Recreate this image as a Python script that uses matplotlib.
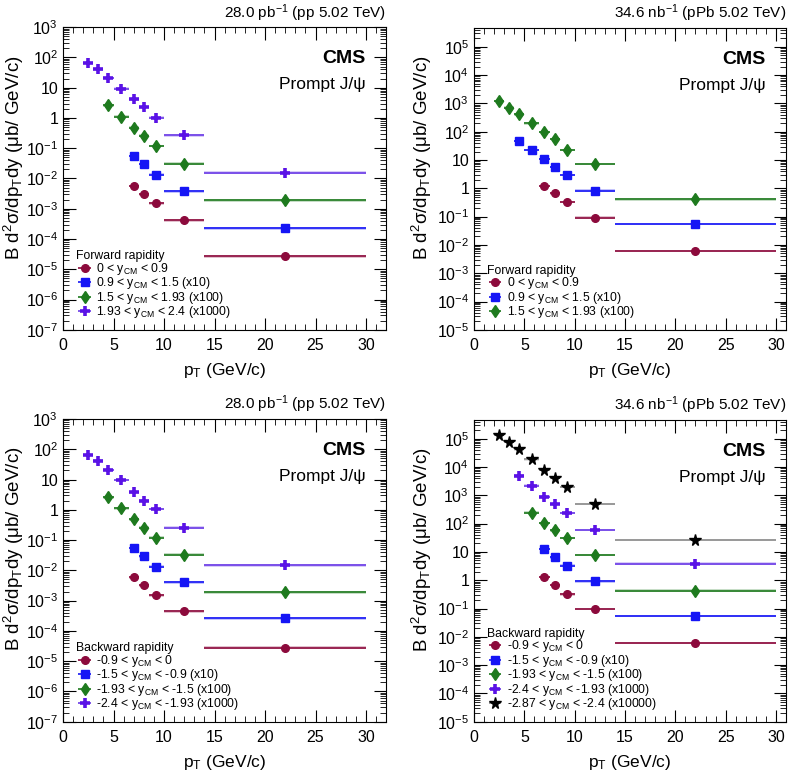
import numpy as np
import matplotlib
matplotlib.use("Agg")
import matplotlib.pyplot as plt
from matplotlib.ticker import LogLocator, FuncFormatter, MultipleLocator, NullFormatter

plt.rcParams['font.family'] = ['Liberation Sans', 'DejaVu Sans']
plt.rcParams['mathtext.fontset'] = 'custom'
plt.rcParams['mathtext.rm'] = 'Liberation Sans'
plt.rcParams['mathtext.it'] = 'Liberation Sans'
plt.rcParams['mathtext.bf'] = 'Liberation Sans:bold'

# pT bin edges (GeV/c); every series fills the last N bins
pt_edges = [2, 3, 4, 5, 6.5, 7.5, 8.5, 10, 14, 30]
pt_centers = [2.5, 3.5, 4.5, 5.75, 7, 8, 9.25, 12, 22]

# -----------------------------
# pp forward
# -----------------------------
pp_fwd_y1 = [5.7e-3, 3.0e-3, 1.5e-3, 4.1e-4, 2.7e-5]
pp_fwd_y2 = [0.056, 0.030, 0.0135, 0.0038, 2.24e-4]
pp_fwd_y3 = [2.6, 1.1, 0.48, 0.26, 0.12, 0.031, 0.0019]
pp_fwd_y4 = [65, 40, 21, 9.3, 4.1, 2.3, 1.03, 0.27, 0.0155]

# pPb forward
ppb_fwd_y1 = [1.23, 0.66, 0.33, 0.092, 0.0062]
ppb_fwd_y2 = [48, 23, 11, 5.8, 3.0, 0.83, 0.055]
ppb_fwd_y3 = [1240, 720, 410, 200, 97, 56, 23, 7.4, 0.41]

# pp backward
pp_bwd_y1 = [5.9e-3, 3.2e-3, 1.5e-3, 4.4e-4, 2.8e-5]
pp_bwd_y2 = [0.055, 0.029, 0.0134, 0.0040, 2.6e-4]
pp_bwd_y3 = [2.6, 1.12, 0.48, 0.26, 0.12, 0.033, 0.0019]
pp_bwd_y4 = [66, 42, 21, 9.7, 3.8, 2.0, 1.07, 0.26, 0.0148]

# pPb backward
ppb_bwd_y1 = [1.32, 0.67, 0.32, 0.095, 0.006]
ppb_bwd_y2 = [12.6, 6.4, 3.3, 0.91, 0.054]
ppb_bwd_y3 = [245, 108, 58, 31, 7.7, 0.43]
ppb_bwd_y4 = [5000, 2200, 910, 500, 240, 61, 3.9]
ppb_bwd_y5 = [1.35e5, 7.8e4, 4.2e4, 1.86e4, 7.8e3, 4.1e3, 1.95e3, 500, 26]

fwd_labels = [r"0 < y$_{\mathregular{CM}}$ < 0.9",
              r"0.9 < y$_{\mathregular{CM}}$ < 1.5 (x10)",
              r"1.5 < y$_{\mathregular{CM}}$ < 1.93 (x100)",
              r"1.93 < y$_{\mathregular{CM}}$ < 2.4 (x1000)"]
bwd_labels = [r"-0.9 < y$_{\mathregular{CM}}$ < 0",
              r"-1.5 < y$_{\mathregular{CM}}$ < -0.9 (x10)",
              r"-1.93 < y$_{\mathregular{CM}}$ < -1.5 (x100)",
              r"-2.4 < y$_{\mathregular{CM}}$ < -1.93 (x1000)",
              r"-2.87 < y$_{\mathregular{CM}}$ < -2.4 (x10000)"]

colors = ["#8c0a3c", "#1515f5", "#1e7a1e", "#5a12e6", "#000000"]
line_colors = ["#8c0a3c", "#1515f5", "#1e7a1e", "#6a3ae6", "#8c8c8c"]
markers = ["o", "s", "d", "+", "*"]
msizes = [5.5, 5.2, 6.5, 7, 8.5]
medges = [1, 1, 1, 2.6, 1]


def draw_series(ax, vals, i, label):
    n = len(vals)
    lo = np.array(pt_edges[-n - 1:-1])
    hi = np.array(pt_edges[-n:])
    x = np.array(pt_centers[-n:])
    y = np.array(vals)
    c = colors[i]
    # systematic boxes
    for a, b, v in zip(lo, hi, y):
        ax.fill_between([a, b], v * 0.9, v * 1.1, color=line_colors[i],
                        alpha=0.25, linewidth=0)
    ax.errorbar(x, y, xerr=[x - lo, hi - x], fmt=markers[i], color=c,
                ecolor=line_colors[i], ms=msizes[i], mew=medges[i],
                elinewidth=1.2, capsize=0, label=label)


def y_fmt(v, pos):
    e = int(round(np.log10(v)))
    if e == 0:
        return "1"
    if e == 1:
        return "10"
    return r"$10^{%d}$" % e


def style_axis(ax, ylim, xmax, lumi, title, ylab_x):
    ax.set_yscale("log")
    ax.set_xlim(0, xmax)
    ax.set_ylim(*ylim)
    ax.xaxis.set_major_locator(MultipleLocator(5))
    ax.xaxis.set_minor_locator(MultipleLocator(1))
    ax.yaxis.set_major_locator(LogLocator(base=10, numticks=20))
    ax.yaxis.set_minor_locator(LogLocator(base=10, subs=np.arange(2, 10), numticks=20))
    ax.yaxis.set_major_formatter(FuncFormatter(y_fmt))
    ax.yaxis.set_minor_formatter(NullFormatter())
    ax.tick_params(which="both", direction="in", top=True, right=True,
                   labelsize=11.5)
    ax.tick_params(axis="x", pad=6)
    ax.tick_params(which="major", length=9)
    ax.tick_params(which="minor", length=4.5)
    ax.set_xlabel(r"p$_{\mathregular{T}}$ (GeV/c)", fontsize=12.5, labelpad=6)
    ax.set_ylabel(r"B d$^2$σ/dp$_{\mathregular{T}}$dy (μb/ GeV/c)",
                  fontsize=13.5)
    ax.yaxis.set_label_coords(ylab_x, 0.57)
    ax.yaxis.label.set_va("center")
    ax.text(1.0, 1.012, lumi, transform=ax.transAxes, ha="right", va="bottom",
            fontsize=11)
    ax.text(0.935, 0.895, "CMS", transform=ax.transAxes, ha="right",
            va="center", fontsize=14, fontweight="bold")
    ax.text(0.935, 0.81, "Prompt J/ψ", transform=ax.transAxes, ha="right",
            va="center", fontsize=12.5)
    leg = ax.legend(loc="lower left", bbox_to_anchor=(0.025, 0.015),
                    frameon=False, fontsize=8.8, title=title,
                    title_fontsize=8.8, handlelength=1.4, handletextpad=0.25,
                    labelspacing=-0.12, handleheight=0.5, borderaxespad=0.2,
                    borderpad=0.2)
    leg._legend_box.align = "left"


fig = plt.figure(figsize=(7.98, 7.76), dpi=100)

pp_lumi = r"28.0 pb$^{-1}$ (pp 5.02 TeV)"
ppb_lumi = r"34.6 nb$^{-1}$ (pPb 5.02 TeV)"

# top-left: pp forward
ax1 = fig.add_axes([0.079, 0.575, 0.405, 0.39])
for i, v in enumerate([pp_fwd_y1, pp_fwd_y2, pp_fwd_y3, pp_fwd_y4]):
    draw_series(ax1, v, i, fwd_labels[i])
style_axis(ax1, (1e-7, 1e3), 32, pp_lumi, "Forward rapidity", -0.152)

# top-right: pPb forward
ax2 = fig.add_axes([0.594, 0.575, 0.391, 0.389])
for i, v in enumerate([ppb_fwd_y1, ppb_fwd_y2, ppb_fwd_y3]):
    draw_series(ax2, v, i, fwd_labels[i])
style_axis(ax2, (1e-5, 10 ** 5.67), 31, ppb_lumi, "Forward rapidity", -0.167)

# bottom-left: pp backward
ax3 = fig.add_axes([0.079, 0.070, 0.405, 0.39])
for i, v in enumerate([pp_bwd_y1, pp_bwd_y2, pp_bwd_y3, pp_bwd_y4]):
    draw_series(ax3, v, i, bwd_labels[i])
style_axis(ax3, (1e-7, 1e3), 32, pp_lumi, "Backward rapidity", -0.152)

# bottom-right: pPb backward
ax4 = fig.add_axes([0.594, 0.070, 0.391, 0.389])
for i, v in enumerate([ppb_bwd_y1, ppb_bwd_y2, ppb_bwd_y3, ppb_bwd_y4, ppb_bwd_y5]):
    draw_series(ax4, v, i, bwd_labels[i])
style_axis(ax4, (1e-5, 10 ** 5.67), 31, ppb_lumi, "Backward rapidity", -0.167)

fig.savefig("out.png", dpi=100)
